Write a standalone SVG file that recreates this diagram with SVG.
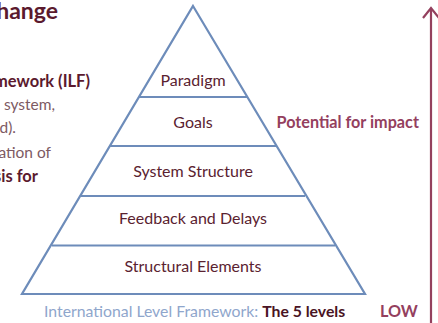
<svg xmlns="http://www.w3.org/2000/svg" width="438" height="323" viewBox="0 0 438 323">
<style>
.t{font-family:Lato,"Noto Sans",sans-serif;font-size:16px;fill:#5a2230;text-anchor:middle}
.l{font-family:Lato,"Noto Sans",sans-serif;font-size:15.5px;text-anchor:end}
.b{font-weight:bold;fill:#5b1a2e}
.r{fill:#7d5a63}
.ln{stroke:#6d8cba;stroke-width:2.2;fill:none;stroke-linejoin:miter}
.m{fill:#94405e;font-family:Lato,"Noto Sans",sans-serif;font-weight:bold;font-size:16.2px}
</style>
<rect width="438" height="323" fill="#fff"/>
<g id="intro">
<text class="l b" x="58" y="19" style="font-size:23px">hange</text>
<text class="l b" x="90" y="86.5" style="font-size:16.5px">mework (ILF)</text>
<text class="l r" x="55" y="110">e system,</text>
<text class="l r" x="16" y="133">d).</text>
<text class="l r" x="51" y="158">ation of</text>
<text class="l b" x="38" y="181.5" style="font-size:16.5px">sis for</text>
</g>
<g id="pyramid">
<polygon class="ln" points="193,6 365,294 22,294"/>
</g>
<g id="connectors">
<line class="ln" x1="139" y1="97" x2="247" y2="97"/>
<line class="ln" x1="110" y1="146" x2="276" y2="146"/>
<line class="ln" x1="81" y1="196" x2="305" y2="196"/>
<line class="ln" x1="52" y1="245.5" x2="335" y2="245.5"/>
<path d="M431,8 V323 M423,18 L431,8 L439,18" stroke="#94405e" stroke-width="2.2" fill="none"/>
</g>
<g id="paradigm"><text class="t" x="193" y="86">Paradigm</text></g>
<g id="goals"><text class="t" x="193" y="128">Goals</text></g>
<g id="system-structure"><text class="t" x="193" y="176.5">System Structure</text></g>
<g id="feedback"><text class="t" x="193" y="224">Feedback and Delays</text></g>
<g id="structural"><text class="t" x="193" y="271.5">Structural Elements</text></g>
<g id="labels">
<text class="m" x="276.5" y="128">Potential for impact</text>
<text class="m" x="380" y="317">LOW</text>
<text x="44" y="317" style="font-family:Lato,'Noto Sans',sans-serif;font-size:15.8px;fill:#8fa6cc">International Level Framework: <tspan style="font-weight:bold;fill:#4a1424">The 5 levels</tspan></text>
</g>
</svg>
